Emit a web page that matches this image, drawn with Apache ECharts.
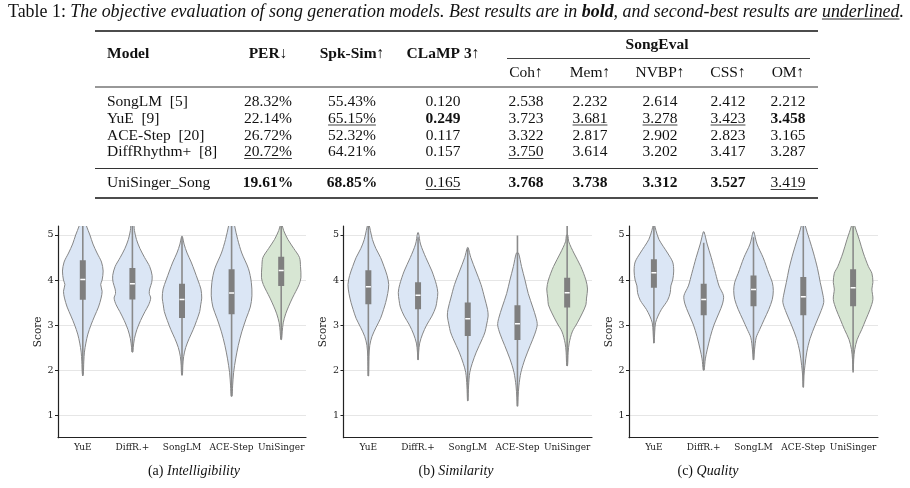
<!DOCTYPE html>
<html>
<head>
<meta charset="utf-8">
<script src="https://cdn.jsdelivr.net/npm/echarts@6/dist/echarts.min.js"></script>
<style>
  html, body { margin: 0; padding: 0; background: #fff; }
  #chart { width: 910px; height: 488px; }
</style>
</head>
<body>
<div id="chart"></div>
<script>
// ---- table data ----
const tableModels = ['SongLM  [5]', 'YuE  [9]', 'ACE-Step  [20]', 'DiffRhythm+  [8]', 'UniSinger_Song'];
const perVals    = ['28.32%', '22.14%', '26.72%', '20.72%', '19.61%'];
const spkSimVals = ['55.43%', '65.15%', '52.32%', '64.21%', '68.85%'];
const clampVals  = ['0.120', '0.249', '0.117', '0.157', '0.165'];
const cohVals    = ['2.538', '3.723', '3.322', '3.750', '3.768'];
const memVals    = ['2.232', '3.681', '2.817', '3.614', '3.738'];
const nvbpVals   = ['2.614', '3.278', '2.902', '3.202', '3.312'];
const cssVals    = ['2.412', '3.423', '2.823', '3.417', '3.527'];
const omVals     = ['2.212', '3.458', '3.165', '3.287', '3.419'];
const mainHeads  = ['PER\u2193', 'Spk-Sim\u2191', 'CLaMP 3\u2191'];
const evalHeads  = ['Coh\u2191', 'Mem\u2191', 'NVBP\u2191', 'CSS\u2191', 'OM\u2191'];

// ---- violin data ----
const models = ['YuE', 'DiffR.+', 'SongLM', 'ACE-Step', 'UniSinger'];
const yTicks = [1, 2, 3, 4, 5];
const panelNames = [['(a) ', 'Intelligibility'], ['(b) ', 'Similarity'], ['(c) ', 'Quality']];

// [score, relative density]
const intelDensity = [
  [[5.4,0.05],[5.2,0.18],[5.0,0.35],[4.8,0.5],[4.6,0.7],[4.4,0.92],[4.2,1.0],[4.0,0.95],[3.9,0.88],[3.75,0.95],[3.6,0.9],[3.4,0.77],[3.2,0.58],[3.0,0.4],[2.8,0.25],[2.6,0.15],[2.4,0.08],[2.2,0.05],[1.9,0.02]],
  [[5.3,0.05],[5.1,0.1],[4.9,0.2],[4.7,0.37],[4.5,0.6],[4.3,0.85],[4.1,0.97],[3.95,0.95],[3.8,0.85],[3.7,0.83],[3.6,0.9],[3.45,0.8],[3.3,0.62],[3.1,0.4],[2.9,0.22],[2.7,0.1],[2.5,0.04],[2.4,0.02]],
  [[4.97,0.02],[4.8,0.1],[4.6,0.25],[4.4,0.45],[4.2,0.62],[4.0,0.78],[3.8,0.93],[3.6,0.97],[3.45,0.92],[3.3,0.87],[3.1,0.72],[2.9,0.55],[2.7,0.35],[2.5,0.18],[2.3,0.08],[2.1,0.04],[1.9,0.02]],
  [[5.4,0.08],[5.2,0.15],[4.9,0.3],[4.6,0.5],[4.25,0.83],[3.95,0.97],[3.65,1.0],[3.4,0.92],[3.15,0.72],[2.85,0.5],[2.55,0.33],[2.25,0.2],[1.95,0.1],[1.65,0.05],[1.42,0.02]],
  [[5.25,0.02],[5.1,0.12],[4.9,0.33],[4.7,0.62],[4.5,0.9],[4.3,0.95],[4.05,0.97],[3.9,0.88],[3.75,0.72],[3.6,0.55],[3.42,0.37],[3.25,0.22],[3.05,0.1],[2.85,0.05],[2.68,0.02]]
];
const simDensity = [
  [[5.25,0.02],[5.1,0.1],[4.9,0.2],[4.7,0.37],[4.5,0.6],[4.3,0.77],[4.1,0.92],[3.9,1.0],[3.7,0.95],[3.5,0.85],[3.35,0.75],[3.15,0.6],[2.95,0.38],[2.75,0.18],[2.55,0.07],[2.3,0.03],[1.87,0.01]],
  [[5.05,0.02],[4.8,0.12],[4.5,0.38],[4.2,0.68],[3.9,0.9],[3.72,0.97],[3.55,0.93],[3.4,0.87],[3.2,0.68],[3.0,0.42],[2.8,0.22],[2.6,0.08],[2.4,0.03],[2.23,0.01]],
  [[4.72,0.02],[4.5,0.15],[4.2,0.4],[3.9,0.65],[3.6,0.83],[3.35,0.97],[3.2,1.0],[3.0,0.92],[2.85,0.85],[2.7,0.72],[2.4,0.42],[2.15,0.22],[1.95,0.1],[1.65,0.04],[1.32,0.01]],
  [[4.6,0.05],[4.3,0.2],[4.0,0.37],[3.7,0.53],[3.4,0.75],[3.15,0.92],[3.0,0.97],[2.8,0.85],[2.55,0.63],[2.25,0.37],[1.95,0.17],[1.65,0.07],[1.4,0.03],[1.2,0.01]],
  [[5.0,0.03],[4.85,0.08],[4.6,0.33],[4.3,0.67],[4.0,0.92],[3.8,1.0],[3.6,0.95],[3.45,0.92],[3.27,0.75],[3.05,0.5],[2.85,0.25],[2.6,0.1],[2.4,0.05],[2.1,0.02]]
];
const qualDensity = [
  [[5.24,0.02],[5.1,0.1],[4.9,0.25],[4.6,0.67],[4.4,0.92],[4.2,0.97],[4.0,0.92],[3.87,0.83],[3.72,0.8],[3.55,0.67],[3.35,0.37],[3.2,0.2],[3.05,0.08],[2.85,0.04],[2.6,0.01]],
  [[5.07,0.02],[4.8,0.17],[4.5,0.37],[4.15,0.58],[3.87,0.75],[3.65,0.97],[3.47,0.92],[3.27,0.75],[3.0,0.5],[2.75,0.33],[2.45,0.17],[2.25,0.08],[2.0,0.02]],
  [[5.07,0.02],[4.8,0.17],[4.5,0.47],[4.15,0.75],[3.95,0.92],[3.77,0.97],[3.57,0.92],[3.35,0.75],[3.13,0.53],[2.9,0.3],[2.72,0.13],[2.45,0.05],[2.23,0.01]],
  [[5.4,0.05],[5.2,0.1],[4.9,0.3],[4.6,0.5],[4.25,0.7],[3.95,0.83],[3.65,0.97],[3.5,1.0],[3.27,0.83],[3.0,0.58],[2.7,0.33],[2.4,0.17],[2.1,0.08],[1.87,0.03],[1.62,0.01]],
  [[5.3,0.03],[5.2,0.08],[4.9,0.3],[4.6,0.5],[4.3,0.75],[4.15,0.92],[3.95,0.97],[3.8,0.92],[3.57,0.97],[3.35,0.83],[3.13,0.63],[2.9,0.42],[2.68,0.2],[2.46,0.08],[2.24,0.03],[2.0,0.01]]
];

// [whisker low, q1, median, q3, whisker high]
const intelBox = [[1.87,3.56,4.01,4.44,5.4],[2.4,3.57,3.92,4.27,5.3],[1.88,3.16,3.57,3.92,4.95],[1.42,3.24,3.71,4.24,5.4],[2.68,3.87,4.21,4.52,5.25]];
const simBox   = [[1.87,3.46,3.85,4.22,5.25],[2.23,3.35,3.66,3.95,4.95],[1.32,2.76,3.14,3.5,4.7],[1.2,2.67,3.03,3.44,4.99],[2.09,3.39,3.72,4.05,5.25]];
const qualBox  = [[2.6,3.83,4.16,4.46,5.24],[2.0,3.22,3.57,3.92,4.83],[2.23,3.42,3.79,4.1,4.95],[1.62,3.22,3.63,4.07,5.3],[1.95,3.42,3.83,4.24,5.3]];

const panelDensity = [intelDensity, simDensity, qualDensity];
const panelBox = [intelBox, simBox, qualBox];

// ---- style ----
const SERIF = '"Liberation Serif", "Times New Roman", serif';
const PLOT_FONT = '"DejaVu Serif", serif';
const INK = '#111';
const BLUE = '#dbe6f5';
const GREEN = '#d7e6d3';
const EDGE = '#868686';
const BOXC = '#7f7f7f';
const VIOLIN_WIDTH = 0.82;

const ctx = document.createElement('canvas').getContext('2d');
function textWidth(str, font) {
  ctx.font = font;
  return ctx.measureText(str).width;
}

const graphic = [];
function addText(str, x, y, font, align) {
  graphic.push({
    type: 'text', x: x, y: y, silent: true,
    style: { text: str, font: font, fill: INK, align: align || 'center', verticalAlign: 'middle' }
  });
}
function addRule(x1, x2, y, w, color) {
  graphic.push({
    type: 'line', silent: true,
    shape: { x1: x1, y1: y, x2: x2, y2: y },
    style: { stroke: color || INK, lineWidth: w }
  });
}

// caption, sized to run across the page like the original
const capParts = [
  ['n', 'Table 1: ', ''],
  ['i', 'The objective evaluation of song generation models. Best results are in ', 'italic '],
  ['b', 'bold', 'italic bold '],
  ['i', ', and second-best results are ', 'italic '],
  ['i', 'underlined', 'italic '],
  ['i', '.', 'italic ']
];
const capX = 8, capY = 12, capRight = 905;
let w15 = 0;
capParts.forEach(p => { w15 += textWidth(p[1], p[2] + '15px ' + SERIF); });
const capSize = Math.floor(15 * (capRight - capX) / w15 * 10) / 10;
const capFont = p => p[2] + capSize + 'px ' + SERIF;
graphic.push({
  type: 'text', x: capX, y: capY, silent: true,
  style: {
    text: capParts.map(p => '{' + p[0] + '|' + p[1] + '}').join(''),
    verticalAlign: 'middle',
    rich: {
      n: { font: capFont(capParts[0]), fill: INK },
      i: { font: capFont(capParts[1]), fill: INK },
      b: { font: capFont(capParts[2]), fill: INK }
    }
  }
});
let ux = capX;
for (let k = 0; k < 4; k++) ux += textWidth(capParts[k][1], capFont(capParts[k]));
addRule(ux, ux + textWidth('underlined', capFont(capParts[4])), capY + 7, 0.9);

// table
const tSize = 15.5;
const tN = tSize + 'px ' + SERIF;
const tB = 'bold ' + tSize + 'px ' + SERIF;
const modelX = 107;
const colX = [268, 352, 443, 526, 590, 660, 728, 788];
const rowY = [101.5, 118.5, 135.5, 152, 183];
const metricCols = [perVals, spkSimVals, clampVals, cohVals, memVals, nvbpVals, cssVals, omVals];
const lowerBetter = [true, false, false, false, false, false, false, false];

addRule(95, 818, 31, 1.5);
addText('Model', modelX, 54, tB, 'left');
mainHeads.forEach((h, k) => addText(h, colX[k], 54, tB));
addText('SongEval', 657, 45, tB);
addRule(507, 810, 58.5, 0.8);
evalHeads.forEach((h, k) => addText(h, colX[3 + k], 73, tN));
addRule(95, 818, 87, 1.1, '#333');
addRule(95, 818, 168.5, 1.1, '#333');
addRule(95, 818, 198, 1.5);

tableModels.forEach((m, r) => addText(m, modelX, rowY[r], tN, 'left'));
metricCols.forEach((vals, c) => {
  const nums = vals.map(v => parseFloat(v));
  const order = nums.map((v, i) => i).sort((a, b) => lowerBetter[c] ? nums[a] - nums[b] : nums[b] - nums[a]);
  vals.forEach((v, r) => {
    const font = r === order[0] ? tB : tN;
    addText(v, colX[c], rowY[r], font);
    if (r === order[1]) {
      const w = textWidth(v, font);
      addRule(colX[c] - w / 2, colX[c] + w / 2, rowY[r] + 6.5, 0.8);
    }
  });
});

// ---- violin panels ----
const gridLeft = [58, 343.5, 629];
const gridWidth = [248, 248.5, 249];
const capCenter = [194, 456, 708];

panelNames.forEach((p, k) => {
  const f1 = '14px ' + SERIF, f2 = 'italic 14px ' + SERIF;
  graphic.push({
    type: 'text', x: capCenter[k], y: 471, silent: true,
    style: {
      text: '{n|' + p[0] + '}{i|' + p[1] + '}', align: 'center', verticalAlign: 'middle',
      rich: { n: { font: f1, fill: INK }, i: { font: f2, fill: INK } }
    }
  });
});

function makeViolin(densities, boxes) {
  return function (params, api) {
    const i = api.value(0);
    const prof = densities[i];
    const b = boxes[i];
    const cx = api.coord([i, 0])[0];
    const half = api.size([1, 0])[0] * VIOLIN_WIDTH / 2;
    const right = [], left = [];
    prof.forEach(([v, d]) => {
      const y = api.coord([i, v])[1];
      right.push([cx + d * half, y]);
      left.unshift([cx - d * half, y]);
    });
    const yOf = v => api.coord([i, v])[1];
    const bw = 6;
    return {
      type: 'group',
      children: [
        {
          type: 'polygon',
          shape: { points: right.concat(left), smooth: 0.3 },
          style: { fill: i === models.length - 1 ? GREEN : BLUE, stroke: EDGE, lineWidth: 1 }
        },
        {
          type: 'line',
          shape: { x1: cx, y1: yOf(b[4]), x2: cx, y2: yOf(b[0]) },
          style: { stroke: '#8a8a8a', lineWidth: 1.6 }
        },
        {
          type: 'rect',
          shape: { x: cx - bw / 2, y: yOf(b[3]), width: bw, height: yOf(b[1]) - yOf(b[3]) },
          style: { fill: BOXC }
        },
        {
          type: 'rect',
          shape: { x: cx - bw / 2 + 0.5, y: yOf(b[2]) - 0.75, width: bw - 1, height: 1.5 },
          style: { fill: '#ffffff' }
        }
      ]
    };
  };
}

const grids = [], xAxes = [], yAxes = [], series = [];
for (let k = 0; k < 3; k++) {
  grids.push({ left: gridLeft[k], width: gridWidth[k], top: 226, height: 211.7 });
  xAxes.push({
    type: 'category', gridIndex: k, data: models, boundaryGap: true,
    axisLine: { lineStyle: { color: '#222', width: 1.2 } },
    axisTick: { alignWithLabel: true, length: 3, lineStyle: { color: '#222' } },
    axisLabel: { interval: 0, fontFamily: PLOT_FONT, fontSize: 9, color: '#222', margin: 5, hideOverlap: false },
    splitLine: { show: false }
  });
  yAxes.push({
    type: 'value', gridIndex: k, min: 0.5, max: 5.2,
    name: 'Score', nameLocation: 'middle', nameGap: 9,
    nameTextStyle: { fontFamily: PLOT_FONT, fontSize: 10.5, color: '#222' },
    axisLine: { show: true, lineStyle: { color: '#222', width: 1.2 } },
    axisTick: { show: true, length: 3, customValues: yTicks, lineStyle: { color: '#222' } },
    axisLabel: { fontFamily: PLOT_FONT, fontSize: 9.5, color: '#222', margin: 4.5, customValues: yTicks },
    splitLine: { show: true, lineStyle: { color: '#e6e6e6', width: 1 } }
  });
  series.push({
    type: 'custom', xAxisIndex: k, yAxisIndex: k, clip: true, silent: true,
    renderItem: makeViolin(panelDensity[k], panelBox[k]),
    encode: { x: 0, y: 1 },
    data: models.map((m, i) => [i, panelBox[k][i][2]])
  });
}

const chart = echarts.init(document.getElementById('chart'), null, { renderer: 'canvas' });
chart.setOption({
  animation: false,
  backgroundColor: '#fff',
  grid: grids,
  xAxis: xAxes,
  yAxis: yAxes,
  series: series,
  graphic: graphic
});
</script>
</body>
</html>
